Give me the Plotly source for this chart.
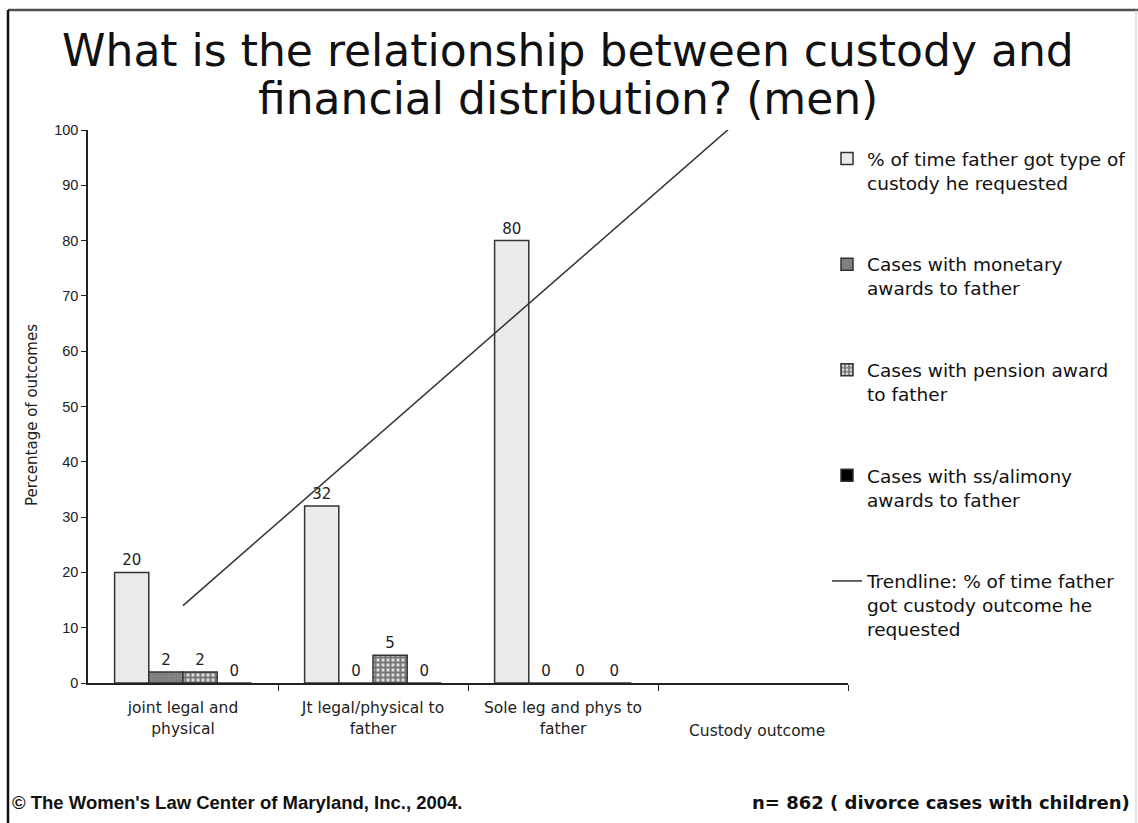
import numpy as np
import plotly.graph_objects as go

# Custody outcome categories (the last slot carries no bars)
categories = ["joint legal and<br>physical", "Jt legal/physical to<br>father",
              "Sole leg and phys to<br>father", ""]
cat_pos = [0, 1, 2, 3]
bar_pos = [0, 1, 2]
x_title = "Custody outcome"

custody_requested = [20, 32, 80]
monetary_awards = [2, 0, 0]
pension_awards = [2, 5, 0]
alimony_awards = [0, 0, 0]

series_names = [
    "% of time father got type of<br>custody he requested",
    "Cases with monetary<br>awards to father",
    "Cases with pension award<br>to father",
    "Cases with ss/alimony<br>awards to father",
]
trend_name = "Trendline: % of time father<br>got custody outcome he<br>requested"

y_ticks = [0, 10, 20, 30, 40, 50, 60, 70, 80, 90, 100]

FONT = "DejaVu Sans, Verdana, sans-serif"
ARIAL = "Liberation Sans, Arial, sans-serif"
W, H = 1138, 823
L, R, T, B = 88, 290, 130, 140

fig = go.Figure()

styles = [
    dict(color="#e4e4e4", pattern=dict(shape="+", fgcolor="#cfcfcf", bgcolor="#ececec",
                                      size=3, solidity=0.15)),
    dict(color="#7d7d7d", pattern=dict(shape=".", fgcolor="#6a6a6a", bgcolor="#858585",
                                      size=3, solidity=0.3)),
    dict(color="#111111", pattern=dict(shape="+", fgcolor="#0a0a0a", bgcolor="#e0e0e0",
                                      size=5, solidity=0.65)),
    dict(color="#000000"),
]
values = [custody_requested, monetary_awards, pension_awards, alimony_awards]

for i, (name, vals, st) in enumerate(zip(series_names, values, styles)):
    fig.add_trace(go.Bar(
        x=bar_pos, y=vals, name=name,
        marker=dict(line=dict(color="#333333", width=1.5), **st),
        text=[str(v) for v in vals], textposition="outside",
        textfont=dict(family=FONT, size=15, color="#222222"),
        cliponaxis=False, legendgroup=f"g{i}",
    ))

# Linear trend of the custody-requested series, extended across the axis
slope, intercept = np.polyfit(bar_pos, custody_requested, 1)
trend_x = np.array([0, 3])
trend_y = intercept + slope * trend_x
fig.add_trace(go.Scatter(
    x=trend_x, y=trend_y, mode="lines", name=trend_name,
    line=dict(color="#333333", width=1.5), legendgroup="g4",
))

fig.update_layout(
    width=W, height=H,
    margin=dict(l=L, r=R, t=T, b=B, autoexpand=False),
    paper_bgcolor="white", plot_bgcolor="white",
    barmode="group", bargap=0.28, bargroupgap=0,
    showlegend=True,
    legend=dict(
        x=(827 - L) / (W - L - R), y=(683 - 140) / (H - T - B),
        xanchor="left", yanchor="top",
        font=dict(family=FONT, size=18.5, color="#111111"),
        valign="top", traceorder="grouped", tracegroupgap=54.5,
        bgcolor="rgba(0,0,0,0)", itemwidth=30,
    ),
    xaxis=dict(
        range=[-0.5, 3.5], tickmode="array", tickvals=cat_pos, ticktext=categories,
        ticks="", showline=True, linecolor="#222222", linewidth=1.5,
        showgrid=False, zeroline=False, ticklabelstandoff=10,
        tickfont=dict(family=FONT, size=15.5, color="#222222"),
        minor=dict(tickmode="array", tickvals=[0.5, 1.5, 2.5, 3.5],
                   ticks="outside", ticklen=6, tickcolor="#222222"),
    ),
    yaxis=dict(
        range=[0, 100], tickmode="array", tickvals=y_ticks,
        ticks="outside", ticklen=5, tickcolor="#222222",
        showline=True, linecolor="#222222", linewidth=1.5,
        showgrid=False, zeroline=False,
        tickfont=dict(family=ARIAL, size=14.5, color="#222222"),
    ),
)

pw, ph = W - L - R, H - T - B
def px(x):
    return (x - L) / pw
def py(y):
    return (H - B - y) / ph

# Frame around the slide
fig.add_shape(type="line", xref="paper", yref="paper",
              x0=px(8), x1=px(1138), y0=py(10), y1=py(10),
              line=dict(color="#505050", width=2.5))
fig.add_shape(type="line", xref="paper", yref="paper",
              x0=px(8), x1=px(8), y0=py(10), y1=py(823),
              line=dict(color="#111111", width=2.5))
fig.add_shape(type="line", xref="paper", yref="paper",
              x0=px(1136), x1=px(1136), y0=py(10), y1=py(823),
              line=dict(color="#c8c8c8", width=1))

annotations = [
    dict(text="What is the relationship between custody and", x=px(568), y=py(50),
         font=dict(family=FONT, size=44, color="#111111")),
    dict(text="financial distribution? (men)", x=px(568), y=py(98),
         font=dict(family=FONT, size=44, color="#111111")),
    dict(text="Percentage of outcomes", x=px(32), y=py(415), textangle=-90,
         font=dict(family=FONT, size=15, color="#222222")),
    dict(text=x_title, x=px(757), y=py(731),
         font=dict(family=FONT, size=15.5, color="#222222")),
    dict(text="<b>© The Women's Law Center of Maryland, Inc., 2004.</b>",
         x=px(10), y=py(802), xanchor="left",
         font=dict(family=ARIAL, size=18.5, color="#111111")),
    dict(text="<b>n= 862 ( divorce cases with children)</b>",
         x=px(1132), y=py(802), xanchor="right",
         font=dict(family=FONT, size=18, color="#111111")),
]
for a in annotations:
    a.setdefault("xanchor", "center")
    fig.add_annotation(xref="paper", yref="paper", showarrow=False, yanchor="middle", **a)

fig.write_html("out.html")
